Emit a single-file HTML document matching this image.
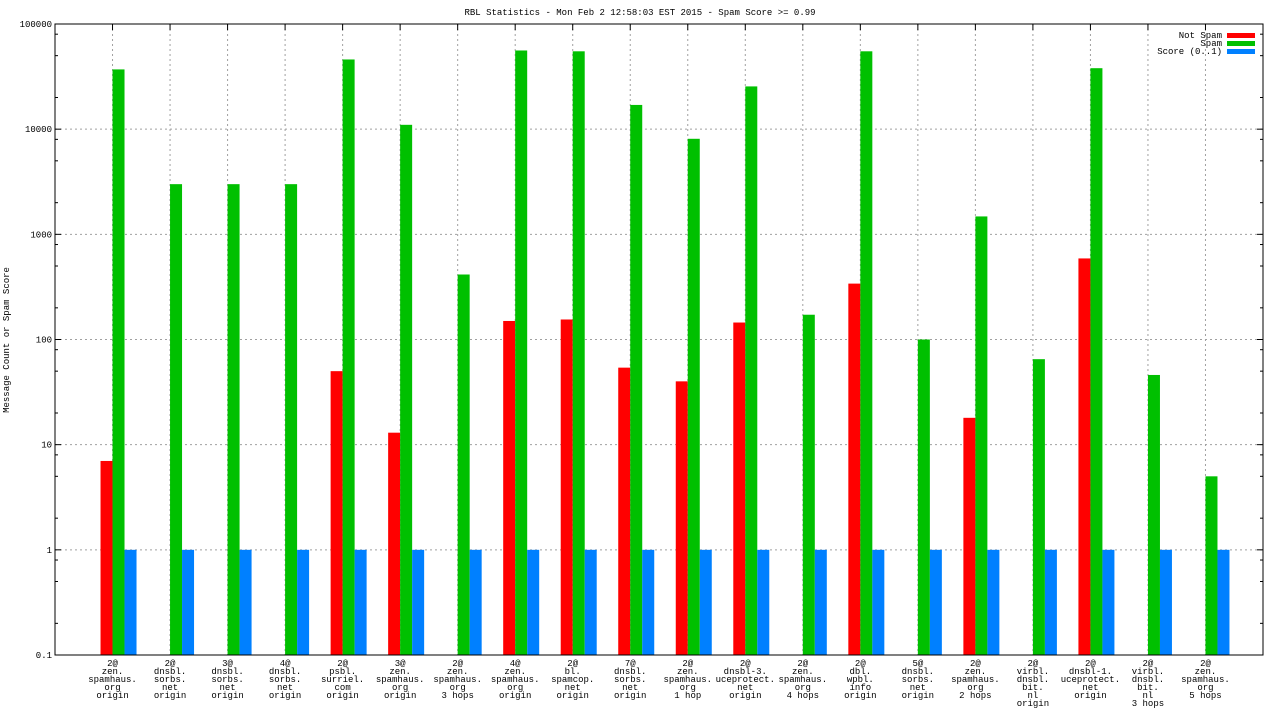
<!DOCTYPE html>
<html><head><meta charset="utf-8"><style>
body{margin:0;background:#fff}
svg text{font-family:"Liberation Mono","DejaVu Sans Mono",monospace;font-size:9px;fill:#000}
</style></head><body>
<svg id="chart" width="1280" height="720" xmlns="http://www.w3.org/2000/svg">
<text x="640" y="15" text-anchor="middle">RBL Statistics - Mon Feb  2 12:58:03 EST 2015 - Spam Score &gt;= 0.99</text>
<text transform="translate(9,340) rotate(-90)" text-anchor="middle">Message Count or Spam Score</text>
<g id="grid"></g><g id="bars"></g><g id="axes"></g><g id="labels"></g>
<g>
<text x="1222" y="38" text-anchor="end">Not Spam</text>
<rect x="1227" y="33" width="28" height="5" fill="#ff0000"/>
<text x="1222" y="46" text-anchor="end">Spam</text>
<rect x="1227" y="41" width="28" height="5" fill="#00c000"/>
<text x="1222" y="54" text-anchor="end">Score (0..1)</text>
<rect x="1227" y="49" width="28" height="5" fill="#0080ff"/>
</g>
</svg>
<script>
const categories=[
["2@","zen.","spamhaus.","org","origin"],["2@","dnsbl.","sorbs.","net","origin"],["3@","dnsbl.","sorbs.","net","origin"],["4@","dnsbl.","sorbs.","net","origin"],["2@","psbl.","surriel.","com","origin"],["3@","zen.","spamhaus.","org","origin"],["2@","zen.","spamhaus.","org","3 hops"],["4@","zen.","spamhaus.","org","origin"],["2@","bl.","spamcop.","net","origin"],["7@","dnsbl.","sorbs.","net","origin"],["2@","zen.","spamhaus.","org","1 hop"],["2@","dnsbl-3.","uceprotect.","net","origin"],["2@","zen.","spamhaus.","org","4 hops"],["2@","dbl.","wpbl.","info","origin"],["5@","dnsbl.","sorbs.","net","origin"],["2@","zen.","spamhaus.","org","2 hops"],["2@","virbl.","dnsbl.","bit.","nl","origin"],["2@","dnsbl-1.","uceprotect.","net","origin"],["2@","virbl.","dnsbl.","bit.","nl","3 hops"],["2@","zen.","spamhaus.","org","5 hops"]];
const notSpam=[7,0,0,0,50,13,0,150,155,54,40,145,0,340,0,18,0,590,0,0];
const spam=[37000,3000,3000,3000,46000,11000,415,56000,55000,17000,8100,25500,172,55000,100,1480,65,38000,46,5];
const score=[1,1,1,1,1,1,1,1,1,1,1,1,1,1,1,1,1,1,1,1];
const yTicks=[0.1,1,10,100,1000,10000,100000];
const yTickLabels=["0.1","1","10","100","1000","10000","100000"];
const NS="http://www.w3.org/2000/svg";
const L=55,R=1263,T=24,B=655;
const yMin=Math.log10(0.1),yMax=Math.log10(100000);
function y(v){return B-(Math.log10(v)-yMin)/(yMax-yMin)*(B-T);}
const step=(R-L)/(categories.length+1);
function x(i){return L+step*(i+1);}
function mk(tag,attrs,parent){const e=document.createElementNS(NS,tag);for(const k in attrs)e.setAttribute(k,attrs[k]);document.getElementById(parent).appendChild(e);return e;}
yTicks.forEach((v,k)=>{
 const yy=y(v);
 if(k>0&&k<yTicks.length-1){const g=mk('line',{x1:L,x2:R,y1:yy,y2:yy,stroke:'#a0a0a0','stroke-dasharray':'2,3'},'grid');
 
 }
 const t=mk('line',{x1:L,x2:L+6,y1:yy,y2:yy,stroke:'#000'},'axes');
 
 
 mk('line',{x1:R,x2:R-6,y1:yy,y2:yy,stroke:'#000'},'axes');
 const lb=mk('text',{x:L-3,y:yy+3,'text-anchor':'end'},'labels');lb.textContent=yTickLabels[k];
 
 
 if(k<yTicks.length-1){[2,5,8].forEach(m=>{const my=y(v*m);mk('line',{x1:L,x2:L+3,y1:my,y2:my,stroke:'#000'},'axes');mk('line',{x1:R,x2:R-3,y1:my,y2:my,stroke:'#000'},'axes');});}
});
categories.forEach((c,i)=>{
 const cx=x(i);
 const g=mk('line',{x1:cx,x2:cx,y1:T,y2:B,stroke:'#a0a0a0','stroke-dasharray':'2,3'},'grid');
 
 
 mk('line',{x1:cx,x2:cx,y1:T,y2:T+6,stroke:'#000'},'axes');
 const series=[[notSpam[i],'#ff0000',-12,'bar-not-spam'],[spam[i],'#00c000',0,'bar-spam'],[score[i],'#0080ff',12,'bar-score']];
 series.forEach(s=>{if(s[0]>0){const r=mk('rect',{x:cx+s[2],y:y(s[0]),width:12,height:B-y(s[0]),fill:s[1]},'bars');
 
 }});
 const t=mk('text',{x:cx,y:666,'text-anchor':'middle'},'labels');
 
 
 c.forEach((ln,j)=>{const ts=document.createElementNS(NS,'tspan');ts.setAttribute('x',cx);ts.setAttribute('y',666+8*j);ts.textContent=ln;t.appendChild(ts);});
});
const f=mk('rect',{x:L,y:T,width:R-L,height:B-T,fill:'none',stroke:'#000','stroke-width':1},'axes');


</script>
</body></html>
